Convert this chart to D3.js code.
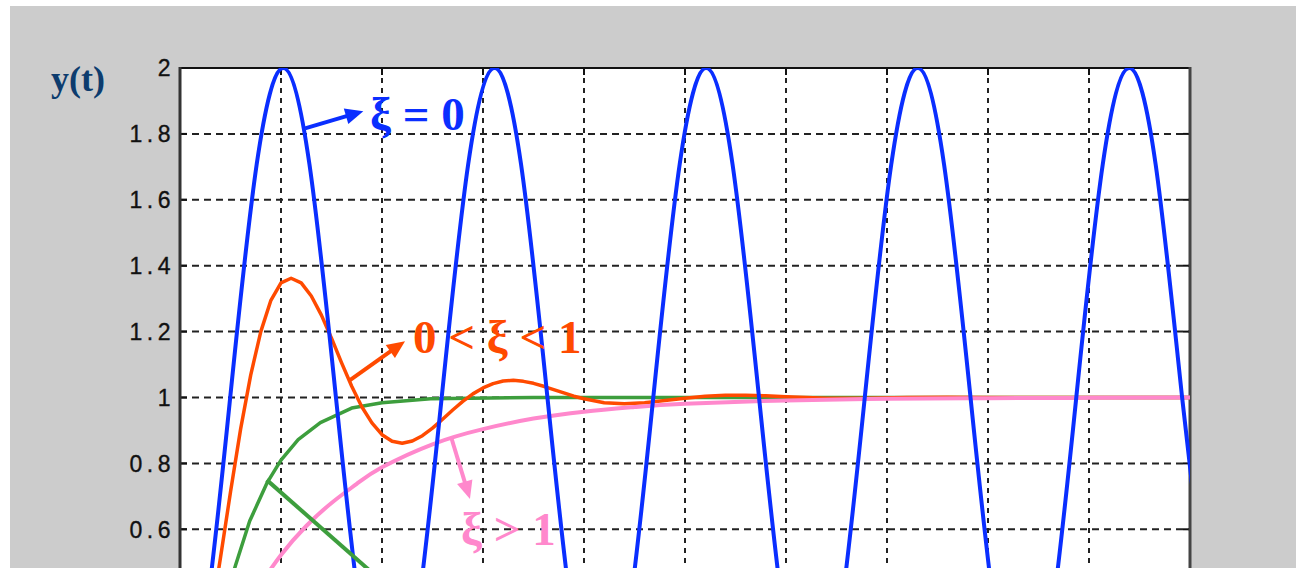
<!DOCTYPE html>
<html><head><meta charset="utf-8">
<script src="https://cdn.jsdelivr.net/npm/d3@7"></script>
<style>html,body{margin:0;padding:0;background:#fff;overflow:hidden}</style>
</head><body><svg id="c" width="1296" height="568"></svg>
<script>
// ---- data ----
const timeTicks = [0,1,2,3,4,5,6,7,8,9,10];
const yTicks = [0,0.2,0.4,0.6,0.8,1,1.2,1.4,1.6,1.8,2];
const yTickLabels = ["0","0.2","0.4","0.6","0.8","1","1.2","1.4","1.6","1.8","2"];

// xi = 0 (undamped)
const blueT = [0,0.235,0.497,0.759,1.021,1.282,1.544,1.806,2.068,2.329,2.591,2.853,3.115,3.377,3.638,3.900,4.162,4.424,4.686,4.947,5.209,5.471,5.733,5.995,6.256,6.518,6.780,7.042,7.304,7.565,7.827,8.089,8.351,8.613,8.874,9.136,9.398,9.660,9.922,10.184];
const blueY = [0.003,0.293,1,1.707,2,1.707,1,0.293,0,0.293,1,1.707,2,1.707,1,0.293,0,0.293,1,1.707,2,1.707,1,0.293,0,0.293,1,1.707,2,1.707,1,0.293,0,0.293,1,1.707,2,1.707,1,0.293];

// 0 < xi < 1 (underdamped)
const orangeT = [0,0.1,0.2,0.3,0.4,0.5,0.6,0.7,0.8,0.9,1.0,1.1,1.2,1.3,1.4,1.5,1.6,1.7,1.8,1.9,2.0,2.1,2.2,2.3,2.4,2.5,2.6,2.7,2.8,2.9,3.0,3.1,3.2,3.3,3.4,3.5,3.6,3.7,3.8,3.9,4.0,4.2,4.4,4.6,4.8,5.0,5.2,5.4,5.6,5.8,6.0,6.4,6.8,7.2,7.6,8,9,10];
const orangeY = [0,0.042,0.156,0.319,0.512,0.713,0.904,1.068,1.2,1.295,1.348,1.362,1.348,1.308,1.25,1.180,1.105,1.034,0.972,0.923,0.887,0.867,0.861,0.868,0.884,0.907,0.934,0.962,0.988,1.011,1.029,1.042,1.050,1.052,1.049,1.043,1.034,1.024,1.014,1.004,0.996,0.984,0.981,0.984,0.991,0.998,1.004,1.007,1.007,1.005,1.002,0.998,0.998,1.0,1.001,1.0,1.0,1.0];

// xi = 1 (critically damped)
const greenT = [0,0.2,0.4,0.55,0.69,0.86,1.0,1.17,1.39,1.7,2.0,2.48,3.5,5,10];
const greenY = [0,0.122,0.337,0.491,0.625,0.74,0.81,0.872,0.924,0.968,0.984,0.996,1,1,1];

// xi > 1 (overdamped)
const pinkT = [0,0.25,0.5,0.75,1,1.25,1.5,1.75,2,2.5,3,3.5,4,4.5,5,6,7,8,9,10];
const pinkY = [0,0.124,0.28,0.411,0.522,0.61,0.68,0.738,0.788,0.858,0.904,0.936,0.957,0.971,0.981,0.991,0.996,0.998,0.999,1];

// ---- drawing ----
const svg = d3.select("#c");
const W = 1296, H = 568;
const L = 180, R = 1190, T = 68, B = 727;
const x = d3.scaleLinear().domain([0,10]).range([L,R]);
const y = d3.scaleLinear().domain([0,2]).range([B,T]);

svg.append("rect").attr("x",0).attr("y",0).attr("width",W).attr("height",H).attr("fill","#ffffff");
svg.append("rect").attr("x",10).attr("y",6).attr("width",W-10).attr("height",H).attr("fill","#cccccc");
svg.append("rect").attr("x",L).attr("y",T).attr("width",R-L).attr("height",B-T).attr("fill","#ffffff");

svg.append("defs").append("clipPath").attr("id","plot")
  .append("rect").attr("x",L).attr("y",T).attr("width",R-L).attr("height",B-T);

// grid
const grid = svg.append("g");
grid.selectAll("line.h").data(yTicks.slice(1,-1)).join("line")
  .attr("x1",L).attr("x2",R).attr("y1",d=>y(d)).attr("y2",d=>y(d))
  .attr("stroke","#222").attr("stroke-width",2).attr("stroke-dasharray","7,5");
grid.selectAll("line.v").data(timeTicks.slice(1,-1)).join("line")
  .attr("y1",T).attr("y2",B).attr("x1",d=>x(d)).attr("x2",d=>x(d))
  .attr("stroke","#222").attr("stroke-width",2).attr("stroke-dasharray","5,5");

// tick marks
const ticks = svg.append("g").attr("stroke","#111").attr("stroke-width",2);
yTicks.forEach(v=>{
  ticks.append("line").attr("x1",L).attr("x2",L+7).attr("y1",y(v)).attr("y2",y(v));
  ticks.append("line").attr("x1",R-7).attr("x2",R).attr("y1",y(v)).attr("y2",y(v));
});
timeTicks.forEach(t=>{
  ticks.append("line").attr("x1",x(t)).attr("x2",x(t)).attr("y1",T).attr("y2",T+7);
  ticks.append("line").attr("x1",x(t)).attr("x2",x(t)).attr("y1",B-7).attr("y2",B);
});

// frame
svg.append("line").attr("x1",L).attr("x2",R).attr("y1",T).attr("y2",T).attr("stroke","#111").attr("stroke-width",2);
svg.append("line").attr("x1",L).attr("x2",R).attr("y1",B).attr("y2",B).attr("stroke","#111").attr("stroke-width",2);
svg.append("line").attr("x1",L).attr("x2",L).attr("y1",T-1).attr("y2",B).attr("stroke","#333").attr("stroke-width",3);
svg.append("line").attr("x1",R).attr("x2",R).attr("y1",T-1).attr("y2",B).attr("stroke","#444").attr("stroke-width",3);

// tick labels (only those inside the visible window)
const visTicks = yTicks.map((v,i)=>({v, lab:yTickLabels[i]})).filter(d=>y(d.v) < H-14);
svg.append("g").selectAll("text").data(visTicks).join("text")
  .attr("x",L-5).attr("y",d=>y(d.v)).attr("dy","0.36em")
  .attr("text-anchor","end").attr("font-family","Liberation Sans, Arial, sans-serif")
  .attr("font-size",23).attr("letter-spacing","4.5px").attr("fill","#111")
  .attr("stroke","#111").attr("stroke-width",0.35)
  .text(d=>d.lab);

// y label
svg.append("text").attr("x",51).attr("y",91).attr("font-family","Liberation Serif, Times New Roman, serif")
  .attr("font-weight","bold").attr("font-size",36).attr("fill","#0d3c6e").text("y(t)");

// curves
const plot = svg.append("g").attr("clip-path","url(#plot)");
function series(ts, vs){ return ts.map((t,i)=>[t, vs[i]]); }
const lineLin = d3.line().x(d=>x(d[0])).y(d=>y(d[1]));
const lineNat = d3.line().x(d=>x(d[0])).y(d=>y(d[1])).curve(d3.curveNatural);

plot.append("path").attr("d",lineLin(series(greenT,greenY))).attr("fill","none")
  .attr("stroke","#3d9e3d").attr("stroke-width",3.5).attr("stroke-linejoin","round");
plot.append("path").attr("d",lineLin(series(orangeT,orangeY))).attr("fill","none")
  .attr("stroke","#ff4a00").attr("stroke-width",3.5).attr("stroke-linejoin","round");
plot.append("path").attr("d",lineNat(series(pinkT,pinkY))).attr("fill","none")
  .attr("stroke","#ff88cc").attr("stroke-width",4).attr("stroke-linejoin","round");
plot.append("path").attr("d",lineNat(series(blueT,blueY))).attr("fill","none")
  .attr("stroke","#0a2eff").attr("stroke-width",4).attr("stroke-linejoin","round");

// annotations
const ann = svg.append("g");
function arrow(t1,v1,t2,v2,color,head){
  const x1=x(t1),y1=y(v1),x2=x(t2),y2=y(v2);
  const a=Math.atan2(y2-y1,x2-x1), len=18, w=8;
  const bx=x2-len*Math.cos(a), by=y2-len*Math.sin(a);
  ann.append("line").attr("x1",x1).attr("y1",y1).attr("x2",head?bx+4*Math.cos(a):x2).attr("y2",head?by+4*Math.sin(a):y2)
    .attr("stroke",color).attr("stroke-width",4);
  if(head){
    const p=[[x2,y2],[bx+w*Math.sin(a),by-w*Math.cos(a)],[bx-w*Math.sin(a),by+w*Math.cos(a)]];
    ann.append("polygon").attr("points",p.map(q=>q.join(",")).join(" ")).attr("fill",color);
  }
}
function label(t,v,txt,color){
  ann.append("text").attr("x",x(t)).attr("y",y(v)).attr("font-family","Liberation Serif, Times New Roman, serif")
    .attr("font-weight","bold").attr("font-size",47).attr("fill",color).attr("xml:space","preserve").text(txt);
}
arrow(1.238,1.817,1.815,1.869,"#0a2eff",true);
label(1.881,1.812,"ξ = 0","#0a2eff");
arrow(1.683,1.053,2.228,1.171,"#ff4a00",true);
label(2.307,1.135,"0 < ξ < 1","#ff4a00");
arrow(2.69,0.874,2.871,0.692,"#ff88cc",true);
label(2.782,0.552,"ξ > 1","#ff88cc");
arrow(0.858,0.75,2.5,0.307,"#3d9e3d",false);
</script></body></html>
